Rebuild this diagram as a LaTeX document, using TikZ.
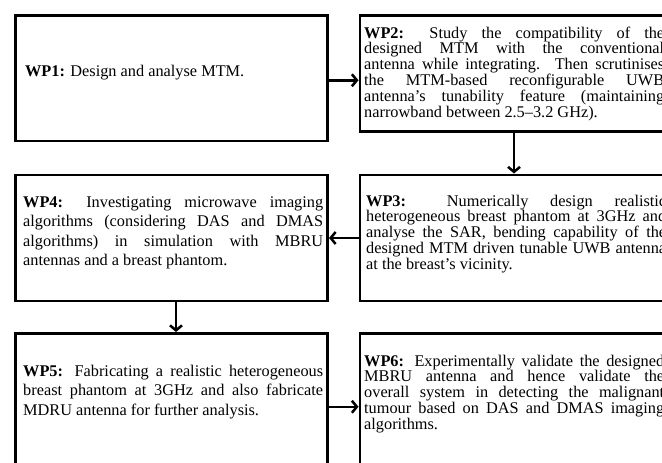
\documentclass[tikz,border=0pt]{standalone}
\usepackage{fontspec}
\setmainfont{Liberation Serif}
\usetikzlibrary{arrows.meta}
\tikzset{
  wpbox/.style={draw=black, line width=2.7pt, inner sep=0pt, outer sep=0pt, rectangle},
  lefttxt/.style={anchor=north west, inner sep=0pt, text width=300pt, align=justify,
    font=\fontsize{16.3}{19.5}\selectfont},
  righttxt/.style={anchor=north west, inner sep=0pt, text width=300pt, align=justify,
    font=\fontsize{16.3}{15.8}\selectfont},
  arr/.style={line width=2.5pt, -{Straight Barb[length=5pt,width=12pt]}, shorten >=1.5pt}
}
\begin{document}
\begin{tikzpicture}[x=1pt,y=-1pt]
\useasboundingbox (0,0) rectangle (662,463);
\clip (0,0) rectangle (662,463);
\fill[white] (0,0) rectangle (662,463);
% boxes
\node[wpbox, minimum width=312pt, minimum height=125.5pt] (b1) at (171.5,78.25) {};
\node[wpbox, minimum width=320pt, minimum height=116pt] (b2) at (520,73.5) {};
\node[wpbox, minimum width=320pt, minimum height=126pt] (b3) at (520,238) {};
\node[wpbox, minimum width=312pt, minimum height=126pt] (b4) at (171.5,238) {};
\node[wpbox, minimum width=312pt, minimum height=136.5pt] (b5) at (171.5,401.75) {};
\node[wpbox, minimum width=320pt, minimum height=136.5pt] (b6) at (520,401.75) {};
% texts
\node[lefttxt] (t1) at (25,64.5) {\textbf{WP1:} Design and analyse MTM.};
\node[righttxt] (t2) at (364,26.5) {\textbf{WP2:} Study the compatibility of the\linebreak
designed MTM with the conventional\linebreak
antenna while integrating. Then scrutinises\linebreak
the MTM-based reconfigurable UWB\linebreak
antenna’s tunability feature (maintaining\linebreak
narrowband between 2.5–3.2 GHz).};
\node[righttxt] (t3) at (366,194.5) {\textbf{WP3:} Numerically design realistic\linebreak
heterogeneous breast phantom at 3GHz and\linebreak
analyse the SAR, bending capability of the\linebreak
designed MTM driven tunable UWB antenna\linebreak
at the breast's vicinity.};
\node[lefttxt] (t4) at (23,196.5) {\textbf{WP4:} Investigating microwave imaging\linebreak
algorithms (considering DAS and DMAS\linebreak
algorithms) in simulation with MBRU\linebreak
antennas and a breast phantom.};
\node[lefttxt] (t5) at (23,364.5) {\textbf{WP5:} Fabricating a realistic heterogeneous\linebreak
breast phantom at 3GHz and also fabricate\linebreak
MDRU antenna for further analysis.};
\node[righttxt] (t6) at (364,354.5) {\textbf{WP6:} Experimentally validate the designed\linebreak
MBRU antenna and hence validate the\linebreak
overall system in detecting the malignant\linebreak
tumour based on DAS and DMAS imaging\linebreak
algorithms.};
% connectors
\draw[arr] ([yshift=-2pt]b1.east) -- ([yshift=-2pt]b1.east -| b2.west);
\draw[arr] ([xshift=-6pt]b2.south) -- ([xshift=-6pt]b2.south |- b3.north);
\draw[arr] (b3.west) -- (b3.west -| b4.east);
\draw[arr] ([xshift=4.5pt]b4.south) -- ([xshift=4.5pt]b4.south |- b5.north);
\draw[arr] ([yshift=-5pt]b5.east) -- ([yshift=-5pt]b5.east -| b6.west);
\end{tikzpicture}
\end{document}
